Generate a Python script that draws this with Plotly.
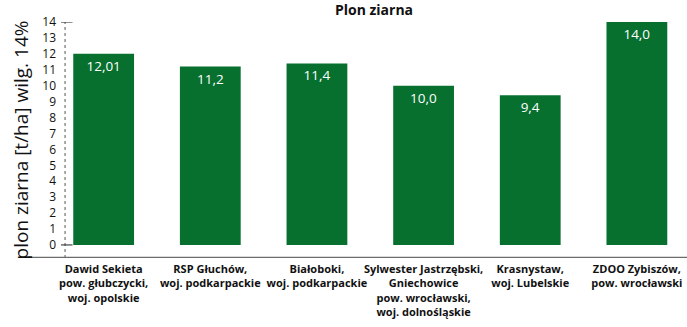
import plotly.graph_objects as go

# Yield per farm (t/ha at 14% moisture)
categories = [
    "Dawid Sekieta<br>pow. głubczycki,<br>woj. opolskie",
    "RSP Głuchów,<br>woj. podkarpackie",
    "Białoboki,<br>woj. podkarpackie",
    "Sylwester Jastrzębski,<br>Gniechowice<br>pow. wrocławski,<br>woj. dolnośląskie",
    "Krasnystaw,<br>woj. Lubelskie",
    "ZDOO Zybiszów,<br>pow. wrocławski",
]
values = [12.01, 11.2, 11.4, 10.0, 9.4, 14.0]
labels = ["12,01", "11,2", "11,4", "10,0", "9,4", "14,0"]
y_ticks = list(range(0, 15))

GREEN = "#07702F"
FONT = "Open Sans"

fig = go.Figure(
    go.Bar(
        x=list(range(len(categories))),
        y=values,
        text=labels,
        textposition="inside",
        insidetextanchor="end",
        textangle=0,
        textfont=dict(family=FONT, size=13.5, color="white"),
        marker=dict(color=GREEN, line=dict(width=0)),
        width=0.57,
        cliponaxis=False,
    )
)

y_min, y_max = -0.82, 14.0

fig.update_layout(
    width=687,
    height=327,
    margin=dict(l=61, r=0, t=22, b=69),
    paper_bgcolor="white",
    plot_bgcolor="white",
    showlegend=False,
    title=dict(
        text="<b>Plon ziarna</b>",
        font=dict(family=FONT, size=14, color="#111"),
        x=0.5,
        xref="paper",
        xanchor="center",
        y=0.985,
        yanchor="top",
    ),
    xaxis=dict(
        tickmode="array",
        tickvals=list(range(len(categories))),
        ticktext=categories,
        range=[-0.4, 5.47],
        showgrid=False,
        zeroline=False,
        showline=False,
        ticks="",
        tickfont=dict(family=FONT, size=11, color="#111", weight="bold"),
        tickangle=0,
        ticklabelstandoff=3,
    ),
    yaxis=dict(
        range=[y_min, y_max],
        tickmode="array",
        tickvals=y_ticks,
        ticktext=[str(v) for v in y_ticks],
        showgrid=False,
        zeroline=False,
        showline=False,
        ticks="",
        tickfont=dict(family=FONT, size=12, color="#111"),
        ticklabelstandoff=4,
        title=dict(
            text="plon ziarna [t/ha] wilg. 14%",
            font=dict(family=FONT, size=19, color="#111"),
            standoff=8,
        ),
    ),
)

# dotted vertical value axis inside the plot
axis_x = -0.362
fig.add_shape(type="line", xref="x", yref="y", x0=axis_x, x1=axis_x, y0=y_min, y1=y_max,
              line=dict(color="#555", width=1, dash="dot"))
# end ticks at 0 and 14
for v in (0, 14):
    fig.add_shape(type="line", xref="x", yref="y", x0=axis_x - 0.06, x1=axis_x + 0.07,
                  y0=v, y1=v, line=dict(color="#222", width=1))
# baseline
fig.add_shape(type="line", xref="paper", yref="y", x0=-0.065, x1=1.0, y0=y_min, y1=y_min,
              line=dict(color="#6b6b6b", width=2.5))

fig.write_html("out.html")
